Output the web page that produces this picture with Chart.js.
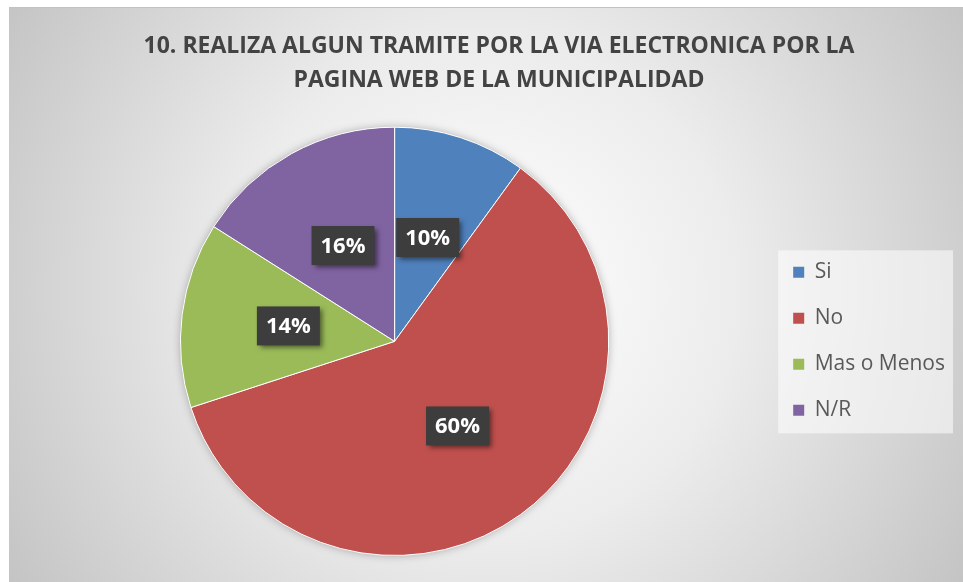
<!DOCTYPE html>
<html>
<head>
<meta charset="utf-8">
<script src="https://cdn.jsdelivr.net/npm/chart.js@4.4.0/dist/chart.umd.min.js"></script>
<style>
  html, body { margin: 0; padding: 0; background: #ffffff; }
  #wrap { width: 963px; height: 582px; }
</style>
</head>
<body>
<div id="wrap"><canvas id="pastel" width="963" height="582"></canvas></div>
<script>
// datos del grafico
var categorias = ["Si", "No", "Mas o Menos", "N/R"];
var porcentajes = [10, 60, 14, 16];
var colores = ["#4f81bd", "#c0504d", "#9bbb59", "#8064a2"];
var titulo = ["10. REALIZA ALGUN TRAMITE POR LA VIA ELECTRONICA POR LA", "PAGINA WEB DE LA MUNICIPALIDAD"];

var fuente = "'Open Sans', 'Noto Sans', sans-serif";

// fondo con degradado radial + caja de la leyenda
var fondo = {
  id: 'fondo',
  afterLayout: function(chart) {
    // el titulo va un poco corrido a la derecha en el original
    chart.titleBlock.left += 22;
  },
  beforeDraw: function(chart) {
    var c = chart.ctx;
    var W = chart.width, H = chart.height;
    c.save();
    c.fillStyle = '#ffffff';
    c.fillRect(0, 0, W, H);
    var g = c.createRadialGradient(486, 290, 0, 486, 290, 560);
    g.addColorStop(0, '#ffffff');
    g.addColorStop(0.45, '#ececec');
    g.addColorStop(1, '#c4c4c4');
    c.fillStyle = g;
    c.fillRect(9, 7, W - 9, H - 7);
    c.fillStyle = '#c2c2c2';
    c.fillRect(9, 7, W - 9, 1);

    // caja blanca detras de la leyenda
    var hb = chart.legend.legendHitBoxes;
    if (hb && hb.length) {
      var first = hb[0], last = hb[hb.length - 1];
      var x0 = first.left - 15;
      var y0 = first.top + first.height / 2 - 22;
      var y1 = last.top + last.height / 2 + 23;
      c.fillStyle = 'rgba(255,255,255,0.55)';
      c.fillRect(x0, y0, W - 10 - x0, y1 - y0);
    }
    c.restore();
  },
  beforeDatasetsDraw: function(chart) {
    // sombra suave del pastel
    var arc = chart.getDatasetMeta(0).data[0];
    if (!arc) return;
    var c = chart.ctx;
    c.save();
    c.shadowColor = 'rgba(0,0,0,0.35)';
    c.shadowBlur = 10;
    c.fillStyle = '#bbbbbb';
    c.beginPath();
    c.arc(arc.x, arc.y, arc.outerRadius - 1, 0, Math.PI * 2);
    c.fill();
    c.restore();
  }
};

// etiquetas de porcentaje en cajas oscuras
var etiquetas = {
  id: 'etiquetas',
  afterDatasetsDraw: function(chart) {
    var c = chart.ctx;
    var meta = chart.getDatasetMeta(0);
    c.save();
    c.font = 'bold 22px ' + fuente;
    c.textAlign = 'center';
    c.textBaseline = 'middle';
    meta.data.forEach(function(arc, i) {
      var p = arc.tooltipPosition();
      var txt = porcentajes[i] + '%';
      var w = c.measureText(txt).width + 18;
      var h = 39;
      c.shadowColor = 'rgba(0,0,0,0.5)';
      c.shadowBlur = 5;
      c.shadowOffsetX = 3;
      c.shadowOffsetY = 3;
      c.fillStyle = '#3d3d3d';
      c.fillRect(p.x - w / 2, p.y - h / 2 - 2, w, h);
      c.shadowColor = 'transparent';
      c.fillStyle = '#ffffff';
      c.fillText(txt, p.x, p.y - 1);
    });
    c.restore();
  }
};

var ctx = document.getElementById("pastel");

var grafico = new Chart(ctx, {
  type: 'pie',
  data: {
    labels: categorias,
    datasets: [
      {
        data: porcentajes,
        backgroundColor: colores,
        borderColor: '#ffffff',
        borderWidth: 1,
        hoverOffset: 0
      }
    ]
  },
  options: {
    responsive: false,
    animation: false,
    events: [],
    layout: { padding: { top: 8, bottom: 26, left: 21, right: 8 } },
    plugins: {
      title: {
        display: true,
        text: titulo,
        color: '#434343',
        font: { family: fuente, size: 23, weight: 'bold', lineHeight: 1.45 },
        padding: { top: 22, bottom: 30 }
      },
      legend: {
        position: 'right',
        fullSize: false,
        labels: {
          boxWidth: 11,
          boxHeight: 11,
          padding: 25,
          color: '#595959',
          font: { family: fuente, size: 21 },
          generateLabels: function(chart) {
            var items = Chart.overrides.pie.plugins.legend.labels.generateLabels(chart);
            items.forEach(function(it) { it.lineWidth = 0; });
            return items;
          }
        }
      },
      tooltip: { enabled: false }
    }
  },
  plugins: [fondo, etiquetas]
});
</script>
</body>
</html>
